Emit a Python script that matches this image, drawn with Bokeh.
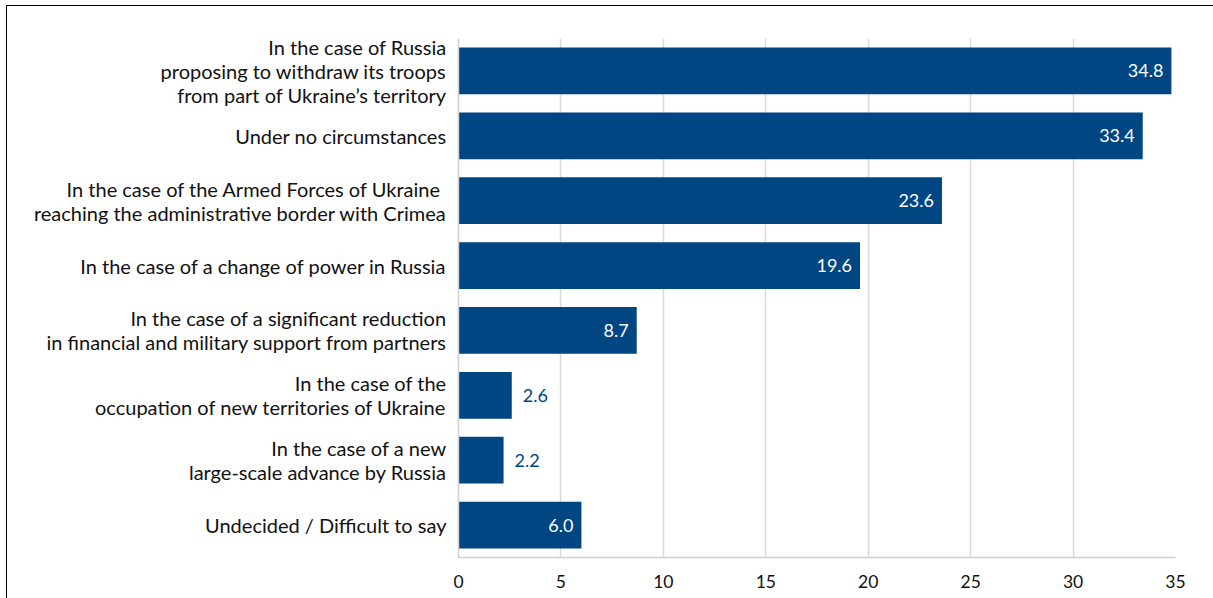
from bokeh.plotting import figure
from bokeh.models import ColumnDataSource, FixedTicker
from bokeh.core.properties import value
from bokeh.embed import file_html
from bokeh.resources import INLINE

categories = [
    "In the case of Russia\nproposing to withdraw its troops\nfrom part of Ukraine\u2019s territory",
    "Under no circumstances",
    "In the case of the Armed Forces of Ukraine \nreaching the administrative border with Crimea",
    "In the case of a change of power in Russia",
    "In the case of a significant reduction\nin financial and military support from partners",
    "In the case of the\noccupation of new territories of Ukraine",
    "In the case of a new\nlarge-scale advance by Russia",
    "Undecided / Difficult to say",
]
values = [34.8, 33.4, 23.6, 19.6, 8.7, 2.6, 2.2, 6.0]
x_ticks = [0, 5, 10, 15, 20, 25, 30, 35]

FONT = "Lato"
BLUE = "#004683"

inside = [v >= 5 for v in values]
src_in = ColumnDataSource(dict(
    y=[c for c, i in zip(categories, inside) if i],
    x=[v for v, i in zip(values, inside) if i],
    t=[f"{v:.1f}" for v, i in zip(values, inside) if i],
))
src_out = ColumnDataSource(dict(
    y=[c for c, i in zip(categories, inside) if not i],
    x=[v for v, i in zip(values, inside) if not i],
    t=[f"{v:.1f}" for v, i in zip(values, inside) if not i],
))
src = ColumnDataSource(dict(y=categories, x=values))

p = figure(
    y_range=list(reversed(categories)), x_range=(0, 35),
    frame_width=717, frame_height=519,
    min_border_left=451, min_border_right=38, min_border_top=32, min_border_bottom=41,
    output_backend="svg", toolbar_location=None,
)
p.styles = {"border-left": "1px solid black", "border-top": "1px solid black",
            "margin-left": "6px", "margin-top": "5px"}
p.outline_line_color = None

p.hbar(y="y", right="x", left=0, height=0.72, source=src, fill_color=BLUE, line_color=None)
p.text(x="x", y="y", text="t", source=src_in, text_align="right", text_baseline="middle",
       x_offset=-8, text_color="white", text_font=value(FONT), text_font_size="18px")
p.text(x="x", y="y", text="t", source=src_out, text_align="left", text_baseline="middle",
       x_offset=11, text_color=BLUE, text_font=value(FONT), text_font_size="18px")

p.xaxis.ticker = FixedTicker(ticks=x_ticks)
p.xgrid.grid_line_color = "#d9d9d9"
p.xgrid.grid_line_width = 1.5
p.ygrid.grid_line_color = None

for ax in (p.xaxis, p.yaxis):
    ax.axis_line_color = "#d0d0d0"
    ax.axis_line_width = 1.5
    ax.major_tick_line_color = None
    ax.minor_tick_line_color = None
    ax.major_label_text_font = FONT
    ax.major_label_text_color = "#111111"

p.xaxis.major_label_text_font_size = "17.5px"
p.xaxis.major_label_standoff = 11
p.yaxis.major_label_text_font_size = "20px"
p.yaxis.major_label_standoff = 6
p.yaxis.major_label_text_line_height = 1.0

open("out.html", "w").write(file_html(p, INLINE))
